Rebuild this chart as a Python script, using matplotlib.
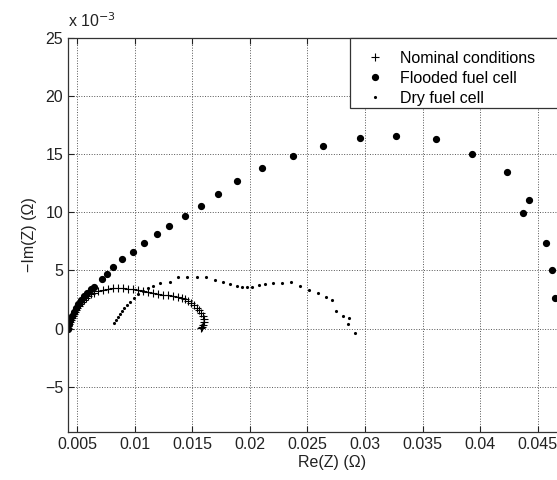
import numpy as np
import matplotlib
matplotlib.use("Agg")
import matplotlib.pyplot as plt
from matplotlib.ticker import FuncFormatter
from matplotlib.patches import Rectangle

plt.rcParams['font.family'] = ['Liberation Sans', 'DejaVu Sans']

# Nominal conditions: Re(Z) in Ohm, -Im(Z) in mOhm
nom_re = [0.00422, 0.00426, 0.00431, 0.00439, 0.00448, 0.00457, 0.00465, 0.00474, 0.00483,
          0.00491, 0.00500, 0.00517, 0.00526, 0.00543, 0.00561, 0.00578, 0.00595, 0.00621,
          0.00648, 0.00682, 0.00726, 0.00769, 0.00812, 0.00856, 0.00899, 0.00943, 0.00986,
          0.01029, 0.01073, 0.01116, 0.01159, 0.01203, 0.01246, 0.01290, 0.01333, 0.01376,
          0.01411, 0.01437, 0.01463, 0.01489, 0.01515, 0.01541, 0.01559, 0.01576, 0.01593,
          0.01602, 0.01602, 0.01593, 0.01585, 0.01576]
nom_im = [0.07, 0.24, 0.41, 0.58, 0.76, 0.93, 1.10, 1.27, 1.44,
          1.62, 1.79, 1.96, 2.13, 2.30, 2.48, 2.65, 2.82, 2.99,
          3.08, 3.25, 3.34, 3.42, 3.51, 3.51, 3.51, 3.42, 3.42,
          3.34, 3.25, 3.16, 3.08, 2.99, 2.91, 2.91, 2.82, 2.73,
          2.65, 2.56, 2.39, 2.22, 2.05, 1.79, 1.62, 1.36, 1.10,
          0.84, 0.58, 0.33, 0.15, 0.07]

# Flooded fuel cell
flood_re = [0.00422, 0.00431, 0.00439, 0.00457, 0.00474, 0.00491, 0.00509, 0.00535, 0.00561,
            0.00587, 0.00621, 0.00648, 0.00717, 0.00760, 0.00812, 0.00890, 0.00986, 0.01081,
            0.01194, 0.01298, 0.01437, 0.01576, 0.01723, 0.01888, 0.02105, 0.02374, 0.02634,
            0.02956, 0.03268, 0.03615, 0.03927, 0.04231, 0.04422, 0.04370, 0.04569, 0.04622,
            0.04648]
flood_im = [0.0, 0.41, 0.76, 1.10, 1.44, 1.79, 2.13, 2.48, 2.82,
            3.08, 3.42, 3.59, 4.28, 4.71, 5.31, 6.00, 6.60, 7.38,
            8.15, 8.84, 9.70, 10.56, 11.59, 12.71, 13.83, 14.86, 15.72,
            16.41, 16.58, 16.32, 15.03, 13.48, 11.08, 9.96, 7.38, 5.06,
            2.65]

# Dry fuel cell
dry_re = [0.00821, 0.00838, 0.00856, 0.00873, 0.00890, 0.00908, 0.00934, 0.00960, 0.00995,
          0.01029, 0.01073, 0.01116, 0.01159, 0.01220, 0.01307, 0.01376, 0.01454, 0.01541,
          0.01619, 0.01697, 0.01767, 0.01828, 0.01888, 0.01932, 0.01975, 0.02018, 0.02079,
          0.02131, 0.02201, 0.02279, 0.02357, 0.02435, 0.02513, 0.02591, 0.02661, 0.02713,
          0.02747, 0.02808, 0.02860, 0.02851, 0.02912]
dry_im = [0.50, 0.76, 1.01, 1.27, 1.53, 1.79, 2.05, 2.30, 2.65,
          2.99, 3.25, 3.51, 3.68, 3.94, 4.02, 4.45, 4.45, 4.45,
          4.45, 4.20, 4.02, 3.85, 3.68, 3.59, 3.59, 3.59, 3.77,
          3.85, 3.94, 3.94, 4.02, 3.68, 3.34, 3.08, 2.73, 2.48,
          1.53, 1.10, 0.93, 0.41, -0.36]

xticks = [0.005, 0.01, 0.015, 0.02, 0.025, 0.03, 0.035, 0.04, 0.045]
yticks = [-5, 0, 5, 10, 15, 20, 25]

fig = plt.figure(figsize=(5.57, 4.8), dpi=100)
ax = fig.add_axes([0.122, 0.1, 0.947, 0.821])

ax.plot(nom_re, np.array(nom_im) * 1e-3, '+', color='black', ms=6, mew=0.8,
        label='Nominal conditions')
ax.plot(flood_re, np.array(flood_im) * 1e-3, 'o', color='black', ms=4.2,
        label='Flooded fuel cell')
ax.plot(dry_re, np.array(dry_im) * 1e-3, '.', color='black', ms=2.5,
        label='Dry fuel cell')

ax.set_xlim(0.00422, 0.05)
ax.set_ylim(-0.0089, 0.025)
ax.set_xticks(xticks)
ax.set_xticklabels([('%g' % t) for t in xticks])
ax.set_yticks([t * 1e-3 for t in yticks])
ax.yaxis.set_major_formatter(FuncFormatter(lambda v, p: ('%d' % round(v * 1e3)).replace('-', '\u2212')))

ax.tick_params(direction='in', top=True, right=True, labelsize=11.5, length=4, colors='#222222')
ax.grid(True, linestyle=':', color='#555555', linewidth=0.7)
for s in ax.spines.values():
    s.set_color('#333333')
    s.set_linewidth(0.9)

ax.set_xlabel('Re(Z) (\u03a9)', fontsize=11.5, color='#222222', labelpad=2)
ax.set_ylabel('\u2212Im(Z) (\u03a9)', fontsize=11.5, color='#222222', labelpad=6)
fig.text(68 / 557, 1 - 30 / 480, 'x 10$^{-3}$', fontsize=11.5, color='#222222', va='bottom')

# legend box (runs off the right edge like the original)
box = Rectangle((350 / 557, 1 - 108 / 480), 230 / 557, 70 / 480,
                transform=fig.transFigure, facecolor='white',
                edgecolor='#333333', linewidth=0.9, zorder=5, clip_on=False)
ax.add_patch(box)
leg = ax.legend(loc='upper left', bbox_to_anchor=(359 / 557, 1 - 51 / 480),
                bbox_transform=fig.transFigure, fontsize=11.5, frameon=False,
                borderaxespad=0, borderpad=0, handlelength=2.0, handletextpad=0.55,
                labelspacing=0.3)
leg.set_zorder(6)

fig.savefig('out.png', dpi=100)
